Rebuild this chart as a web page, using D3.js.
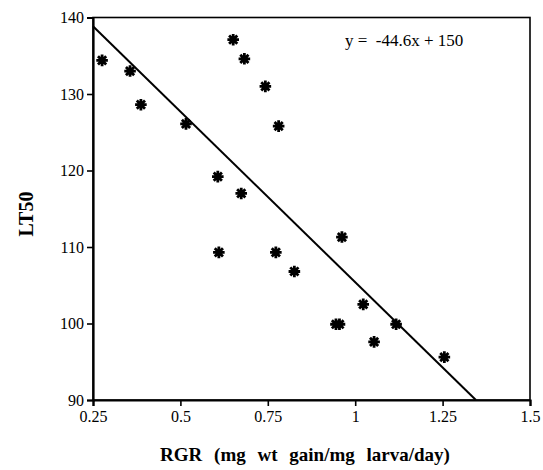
<!DOCTYPE html>
<html>
<head>
<meta charset="utf-8">
<script src="https://cdn.jsdelivr.net/npm/d3@7"></script>
<style>
  body { margin: 0; background: #fff; }
  svg { display: block; }
  .tick text { font-family: "Liberation Serif", "DejaVu Serif", serif; font-size: 16px; fill: #000; }
</style>
</head>
<body>
<div id="chart"></div>
<script>
// RGR vs LT50 readings
let rgr  = [0.276, 0.356, 0.387, 0.516, 0.651, 0.683, 0.743, 0.781, 0.607, 0.674,
            0.610, 0.773, 0.826, 0.962, 1.023, 0.945, 0.955, 1.117, 1.054, 1.255]
let lt50 = [134.4, 133.0, 128.6, 126.1, 137.1, 134.6, 131.0, 125.8, 119.2, 117.0,
            109.3, 109.3, 106.8, 111.3, 102.5, 99.9, 99.9, 99.9, 97.6, 95.6]

let xTicks = [0.25, 0.5, 0.75, 1, 1.25, 1.5]
let xTickLabels = ['0.25', '0.5', '0.75', '1', '1.25', '1.5']
let yTicks = [90, 100, 110, 120, 130, 140]

// fitted line
let slope = -44.6
let intercept = 150
let equation = 'y =  -44.6x + 150'

let width = 543
let height = 470

var svg = d3.select('#chart').append('svg')
  .attr('width', width)
  .attr('height', height)

var x = d3.scaleLinear().domain([0.25, 1.5]).range([93, 530])
var y = d3.scaleLinear().domain([90, 140]).range([400, 17.5])

// frame (top / right)
svg.append('rect')
  .attr('x', x(0.25))
  .attr('y', y(140))
  .attr('width', x(1.5) - x(0.25))
  .attr('height', y(90) - y(140))
  .attr('fill', 'none')
  .attr('stroke', '#000')
  .attr('stroke-width', 1.6)

let xAxis = svg.append('g')
  .attr('transform', `translate(0,${y(90)})`)
  .call(d3.axisBottom(x).tickValues(xTicks)
    .tickFormat((d, i) => xTickLabels[i])
    .tickSize(6).tickPadding(5))
xAxis.select('.domain').attr('stroke-width', 2.2)
xAxis.selectAll('.tick line').attr('stroke-width', 1.6)

let yAxis = svg.append('g')
  .attr('transform', `translate(${x(0.25)},0)`)
  .call(d3.axisLeft(y).tickValues(yTicks).tickSize(6).tickPadding(3))
yAxis.select('.domain').attr('stroke-width', 2.2)
yAxis.selectAll('.tick line').attr('stroke-width', 1.6)

// regression line, from x=0.25 down to where it meets y=90
let xEnd = (90 - intercept) / slope
svg.append('line')
  .attr('x1', x(0.25))
  .attr('y1', y(slope * 0.25 + intercept))
  .attr('x2', x(xEnd))
  .attr('y2', y(90))
  .attr('stroke', '#000')
  .attr('stroke-width', 2)

// 8-armed asterisk markers
function star(r) {
  let d = ''
  for (let k = 0; k < 4; k++) {
    let a = k * Math.PI / 4
    let dx = r * Math.cos(a), dy = r * Math.sin(a)
    d += `M${-dx},${-dy}L${dx},${dy}`
  }
  return d
}

let points = rgr.map((v, i) => ({ x: v, y: lt50[i] }))
svg.selectAll('.pt').data(points).enter().append('path')
  .attr('class', 'pt')
  .attr('transform', d => `translate(${x(d.x)},${y(d.y)})`)
  .attr('d', star(5.8))
  .attr('stroke', '#000')
  .attr('stroke-width', 2.8)
  .attr('fill', 'none')

svg.append('text')
  .attr('x', 345)
  .attr('y', 46)
  .attr('font-family', '"Liberation Serif", serif')
  .attr('font-size', 17)
  .style('white-space', 'pre')
  .text(equation)

svg.append('text')
  .attr('transform', 'translate(33,214) rotate(-90)')
  .attr('text-anchor', 'middle')
  .attr('font-family', '"Liberation Serif", serif')
  .attr('font-weight', 'bold')
  .attr('font-size', 20)
  .text('LT50')

svg.append('text')
  .attr('x', 305)
  .attr('y', 461)
  .attr('text-anchor', 'middle')
  .attr('font-family', '"Liberation Serif", serif')
  .attr('font-weight', 'bold')
  .attr('font-size', 19)
  .attr('word-spacing', 7)
  .text('RGR (mg wt gain/mg larva/day)')
</script>
</body>
</html>
